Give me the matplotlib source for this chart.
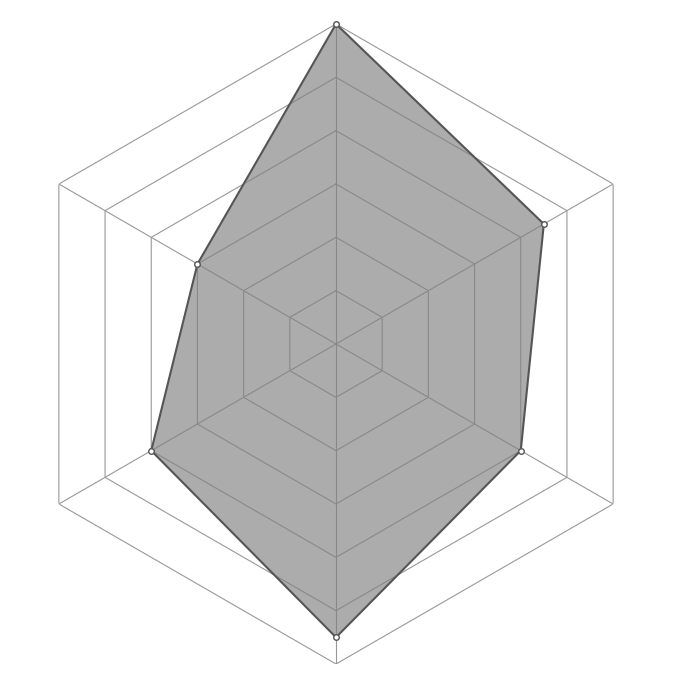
import numpy as np
import matplotlib
matplotlib.use("Agg")
import matplotlib.pyplot as plt

# six unlabeled axes, clockwise from top
axes_names = ["a", "b", "c", "d", "e", "f"]
values = [6, 4.5, 4, 5.5, 4, 3]
ring_levels = [1, 2, 3, 4, 5, 6]

n = len(axes_names)
angles = np.linspace(0, 2 * np.pi, n, endpoint=False)
ang_closed = np.append(angles, angles[0])
vals_closed = np.append(values, values[0])

fig = plt.figure(figsize=(6.88, 6.88), dpi=100)
cx, cy, r = 336 / 688, 0.5, 320 / 688
ax = fig.add_axes([cx - r, cy - r, 2 * r, 2 * r], projection="polar")
ax.set_theta_offset(np.pi / 2)
ax.set_theta_direction(-1)
ax.set_ylim(0, ring_levels[-1])
ax.grid(False)
ax.spines["polar"].set_visible(False)
ax.set_xticks([])
ax.set_yticks([])

# hexagon rings and spokes
for lv in ring_levels:
    ax.plot(ang_closed, [lv] * (n + 1), color="#999999", lw=0.8, zorder=1)
for a in angles:
    ax.plot([a, a], [0, ring_levels[-1]], color="#999999", lw=0.8, zorder=1)

ax.fill(ang_closed, vals_closed, color="#808080", alpha=0.65, lw=0, zorder=2)
ax.plot(ang_closed, vals_closed, color="#555555", lw=1.5, zorder=3, clip_on=False)
ax.plot(angles, values, "o", ms=4, mfc="white", mec="#555555", mew=1.0,
        zorder=4, clip_on=False)

plt.savefig("out.png", dpi=100)
